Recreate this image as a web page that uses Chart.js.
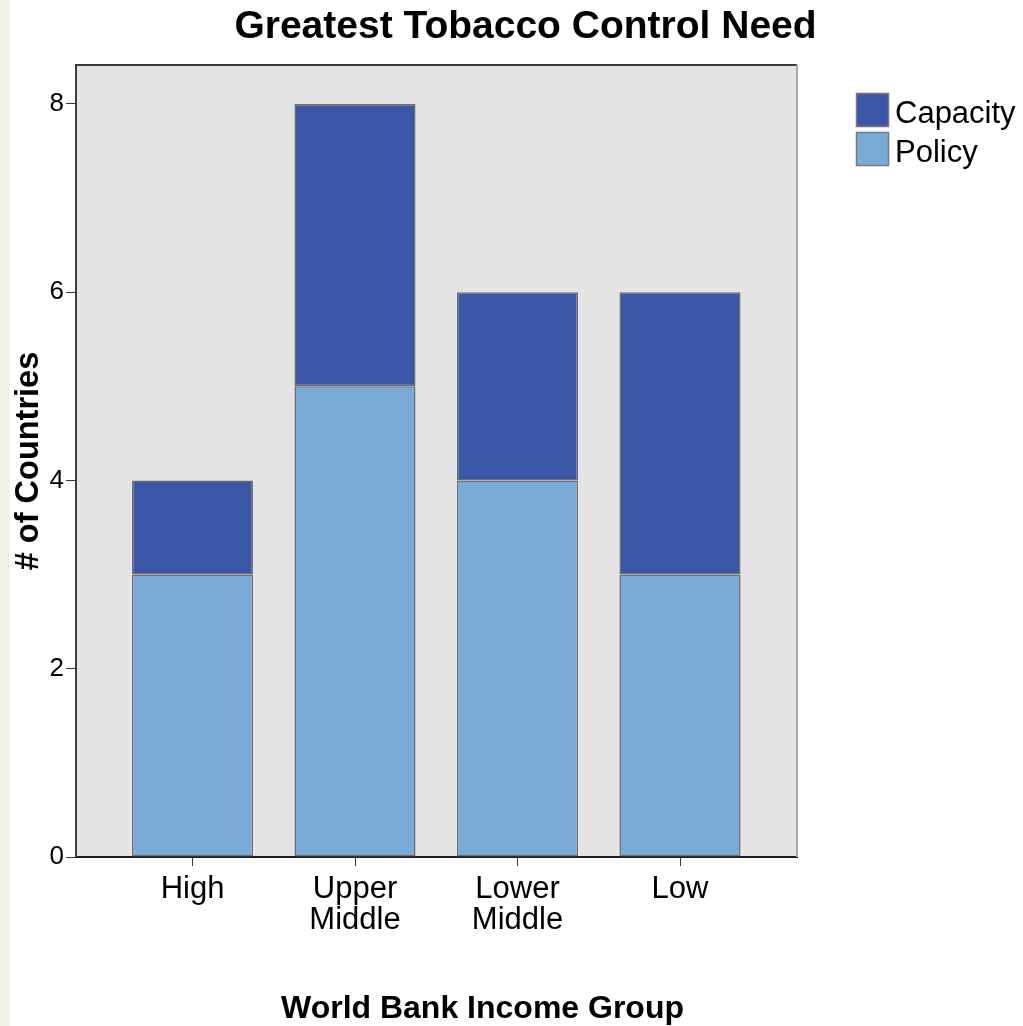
<!DOCTYPE html>
<html>
<head>
<meta charset="utf-8">
<title>Greatest Tobacco Control Need</title>
<script src="https://cdn.jsdelivr.net/npm/chart.js@4/dist/chart.umd.min.js"></script>
<style>
  html, body { margin: 0; padding: 0; background: #ffffff; }
  #wrap { width: 1023px; height: 1026px; }
</style>
</head>
<body>
<div id="wrap"><canvas id="chart" width="1023" height="1026"></canvas></div>
<script>
// Income groups along the x axis
const categories = ['High', 'Upper Middle', 'Lower Middle', 'Low'];
// Number of countries per group, by type of greatest need
const policyCounts = [3, 5, 4, 3];
const capacityCounts = [1, 3, 2, 3];
// Value axis ticks
const yTicks = [0, 2, 4, 6, 8];

const chartTitle = 'Greatest Tobacco Control Need';
const xTitle = 'World Bank Income Group';
const yTitle = '# of Countries';

const FONT = "'Liberation Sans', Arial, Helvetica, sans-serif";
const POLICY_COLOR = '#7aaad6';
const CAPACITY_COLOR = '#3d57a8';
const EDGE_COLOR = '#6e6e6e';

// Page furniture: side strip, plot background, frame, title, x title, legend
const decorations = {
  id: 'decorations',
  beforeDraw(chart) {
    const { ctx, chartArea: a } = chart;
    ctx.save();
    ctx.fillStyle = '#f1f1e5';
    ctx.fillRect(0, 0, 10, chart.height);
    ctx.fillStyle = '#e4e4e4';
    ctx.fillRect(a.left, a.top, a.right - a.left, a.bottom - a.top);
    ctx.restore();
  },
  afterDraw(chart) {
    const { ctx, chartArea: a } = chart;
    ctx.save();
    // top and right edges of the plot frame
    ctx.lineWidth = 2;
    ctx.strokeStyle = '#3c3c3c';
    ctx.beginPath();
    ctx.moveTo(a.left - 1, a.top);
    ctx.lineTo(a.right, a.top);
    ctx.stroke();
    ctx.strokeStyle = '#a8a8a8';
    ctx.beginPath();
    ctx.moveTo(a.right, a.top);
    ctx.lineTo(a.right, a.bottom);
    ctx.stroke();

    // chart title
    ctx.fillStyle = '#000000';
    ctx.textAlign = 'center';
    ctx.textBaseline = 'alphabetic';
    ctx.font = 'bold 39px ' + FONT;
    ctx.fillText(chartTitle, 525.5, 38);

    // x axis title
    ctx.font = 'bold 32px ' + FONT;
    ctx.fillText(xTitle, 482.5, 1018);

    // legend, top series first
    const items = chart.data.datasets.slice().reverse();
    ctx.textAlign = 'left';
    ctx.font = '31px ' + FONT;
    items.forEach((ds, i) => {
      const y = 93 + i * 39;
      ctx.fillStyle = ds.backgroundColor;
      ctx.fillRect(856, y, 33, 34);
      ctx.lineWidth = 1.5;
      ctx.strokeStyle = '#777777';
      ctx.strokeRect(856.5, y + 0.5, 32, 33);
      ctx.fillStyle = '#000000';
      ctx.fillText(ds.label, 895, y + 29.5);
    });
    ctx.restore();
  }
};

const toPoints = arr => arr.map((v, i) => ({ x: i, y: v }));

new Chart(document.getElementById('chart'), {
  type: 'bar',
  data: {
    datasets: [
      {
        label: 'Policy',
        data: toPoints(policyCounts),
        backgroundColor: POLICY_COLOR,
        borderColor: EDGE_COLOR,
        borderWidth: 1.5,
        borderSkipped: false
      },
      {
        label: 'Capacity',
        data: toPoints(capacityCounts),
        backgroundColor: CAPACITY_COLOR,
        borderColor: EDGE_COLOR,
        borderWidth: 1.5,
        borderSkipped: false
      }
    ]
  },
  options: {
    responsive: false,
    animation: false,
    devicePixelRatio: 1,
    layout: { padding: { left: 10, right: 226, top: 65, bottom: 0 } },
    datasets: { bar: { categoryPercentage: 1, barPercentage: 0.745 } },
    plugins: {
      legend: { display: false },
      title: { display: false },
      tooltip: { enabled: false }
    },
    scales: {
      x: {
        type: 'linear',
        stacked: true,
        offset: false,
        min: -0.717,
        max: 3.72,
        afterFit(scale) { scale.height = 169; },
        afterBuildTicks(scale) {
          scale.ticks = categories.map((c, i) => ({ value: i }));
        },
        grid: {
          offset: false,
          drawOnChartArea: false,
          drawTicks: true,
          tickLength: 9,
          color: '#333333',
          lineWidth: 1
        },
        border: { display: true, color: '#1e1e1e', width: 2 },
        ticks: {
          autoSkip: false,
          maxRotation: 0,
          padding: 7,
          color: '#000000',
          font: { family: FONT, size: 31, lineHeight: 1.03 },
          callback: v => (categories[v] !== undefined ? categories[v].split(' ') : '')
        },
        title: { display: false }
      },
      y: {
        stacked: true,
        min: 0,
        max: 8.414,
        afterFit(scale) { scale.width = 66; },
        afterBuildTicks(scale) {
          scale.ticks = yTicks.map(v => ({ value: v }));
        },
        grid: {
          drawOnChartArea: false,
          drawTicks: true,
          tickLength: 10,
          color: '#333333',
          lineWidth: 1
        },
        border: { display: true, color: '#3c3c3c', width: 2 },
        ticks: {
          padding: 2,
          color: '#000000',
          font: { family: FONT, size: 26 }
        },
        title: {
          display: true,
          text: yTitle,
          color: '#000000',
          font: { family: FONT, size: 32.5, weight: 'bold', lineHeight: 1.2 },
          padding: { top: 0, bottom: 0 }
        }
      }
    }
  },
  plugins: [decorations]
});
</script>
</body>
</html>
